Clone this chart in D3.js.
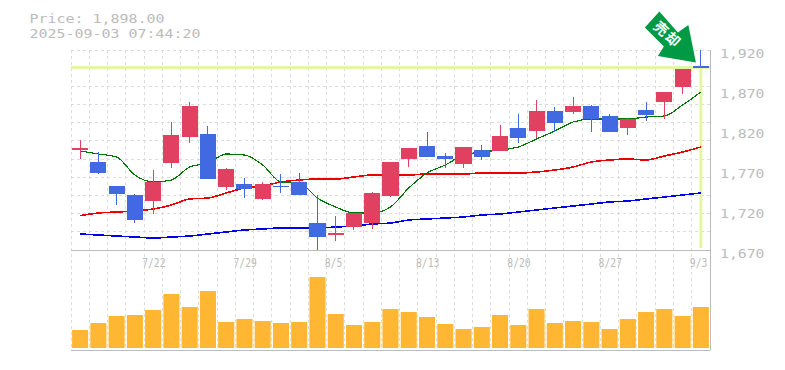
<!DOCTYPE html>
<html>
<head>
<meta charset="utf-8">
<script src="https://cdn.jsdelivr.net/npm/d3@7"></script>
<style>
  html, body { margin: 0; padding: 0; background: #fff; }
  svg { display: block; }
  text { font-family: "DejaVu Sans Mono", monospace; fill: #bbb; }
</style>
</head>
<body>
<div id="chart"></div>
<script>
const price_title = "Price: 1,898.00"
const time_title = "2025-09-03 07:44:20"
const last_price = 1898

const dates = ["7/15","7/16","7/17","7/18","7/22","7/23","7/24","7/25","7/28","7/29",
  "7/30","7/31","8/1","8/4","8/5","8/6","8/7","8/8","8/12","8/13",
  "8/14","8/15","8/18","8/19","8/20","8/21","8/22","8/25","8/26","8/27",
  "8/28","8/29","9/1","9/2","9/3"]
const date_labels = ["7/22","7/29","8/5","8/13","8/20","8/27","9/3"]
const price_ticks = [1670,1720,1770,1820,1870,1920]

const opens = [1795,1780,1750,1738.75,1731.25,1778.75,1811.25,1815,1748.75,1752.5,
  1733.75,1750,1755,1703.75,1688.75,1698.75,1703.75,1737.5,1783.75,1800,
  1787.5,1777.5,1795,1793.75,1822.5,1818.75,1843.75,1842.5,1850,1837.5,
  1822.5,1845,1855,1873.75,1900]
const highs = [1807.5,1792.5,1750,1740,1770,1830,1855,1825,1772.5,1760,
  1755,1765,1766.25,1738.75,1712.5,1716.25,1742.5,1780,1797.5,1817.5,
  1791.25,1798.75,1801.25,1826.25,1840,1857.5,1848.75,1861.25,1851.25,1840,
  1835,1855,1867.5,1896.25,1920]
const lows = [1783.75,1765,1726.25,1703.75,1715,1772.5,1803.75,1758.75,1745,1735,
  1732.5,1741.25,1738.75,1670,1681.25,1695,1696.25,1736.25,1773.75,1786.25,
  1772.5,1772.5,1782.5,1793.75,1803.75,1810,1817.5,1840,1817.5,1817.5,
  1813.75,1831.25,1833.75,1865,1898]
const closes = [1797.5,1766.25,1740,1707.5,1755,1813.75,1850,1758.75,1771.25,1746.25,
  1752.5,1748.75,1738.75,1686.25,1691.25,1716.25,1741.25,1780,1797.5,1786.25,
  1783.75,1798.75,1786.25,1812.5,1810,1843.75,1828.75,1850,1833.75,1817.5,
  1833.75,1838.75,1867.5,1896.25,1898]

const ma_short = [1793.75,1790,1786.25,1763.75,1755,1757.5,1773.75,1778.75,1790,1788.75,
  1776.25,1755,1753.75,1735,1723.75,1716.25,1716.25,1723.75,1747.5,1766.25,
  1776.25,1788.75,1792.5,1795,1798.75,1808.75,1818.75,1830,1833.75,1833.75,
  1833.75,1836.25,1837.5,1851.25,1867.5]
const ma_mid = [1713,1716.25,1717.5,1718.75,1721.25,1726.25,1733.75,1735,1741.25,1747.5,
  1750,1755,1757.5,1758.75,1758.75,1761.25,1763.75,1763.75,1763.75,1765,
  1765,1765,1766.25,1766.25,1766.25,1767.5,1770,1773.75,1780,1782.5,
  1783.75,1782.5,1787.5,1792.5,1798.75]
const ma_long = [1690,1688.75,1687.5,1686.25,1685,1686.25,1687.5,1690,1692.5,1695,
  1696.25,1697.5,1697.5,1697.5,1698.75,1700,1702.5,1703.75,1707.5,1708.75,
  1710,1711.25,1713.75,1715,1717.5,1720,1722.5,1725,1727.5,1730,
  1731.25,1733.75,1736.25,1738.75,1741.25]

const volumes = [1800,2500,3200,3300,3800,5400,4100,5700,2600,2900,
  2700,2500,2600,7100,3400,2300,2600,3900,3600,3100,
  2400,1900,2100,3300,2300,3900,2500,2700,2600,1900,
  2900,3600,3900,3200,4100]

const width = 785
const height = 370
const left = 71
const right = 710
const top_y = 50
const price_bottom = 250
const vol_bottom = 348
const panel_bottom = 350
const grid_rows = 11

const up_color = "#e24060"
const down_color = "#4169e1"
const grid_color = "#dcdcdc"
const axis_color = "#bbb"
const now_color = "#e4f6a4"

const svg = d3.select("#chart").append("svg")
  .attr("width", width)
  .attr("height", height)

const x = d3.scaleBand().domain(dates).range([left, right]).paddingInner(0.12).paddingOuter(0.06)
const y = d3.scaleLinear().domain([1670, 1920]).range([price_bottom, top_y])
const vol_y = d3.scaleLinear().domain([0, 9800]).range([vol_bottom, price_bottom])
const center = d => x(d) + x.bandwidth() / 2
const step = (right - left) / dates.length

// grid
const grid = svg.append("g")
  .attr("stroke", grid_color)
  .attr("stroke-dasharray", "3,3")
  .attr("shape-rendering", "crispEdges")

grid.selectAll(".v").data(d3.range(0, dates.length))
  .enter().append("line")
  .attr("x1", i => left + i * step)
  .attr("x2", i => left + i * step)
  .attr("y1", top_y)
  .attr("y2", panel_bottom)

grid.selectAll(".h").data(d3.range(0, grid_rows))
  .enter().append("line")
  .attr("x1", left)
  .attr("x2", right)
  .attr("y1", i => top_y + i * (price_bottom - top_y) / grid_rows)
  .attr("y2", i => top_y + i * (price_bottom - top_y) / grid_rows)

// current price cross
const last_date = dates[dates.length - 1]
svg.append("line")
  .attr("x1", left).attr("x2", right)
  .attr("y1", y(last_price)).attr("y2", y(last_price))
  .attr("stroke", now_color).attr("stroke-width", 3)
svg.append("line")
  .attr("x1", center(last_date)).attr("x2", center(last_date))
  .attr("y1", y(last_price)).attr("y2", price_bottom - 2)
  .attr("stroke", now_color).attr("stroke-width", 3)

// volume
svg.append("g").selectAll("rect").data(volumes)
  .enter().append("rect")
  .attr("x", (d, i) => x(dates[i]))
  .attr("width", x.bandwidth())
  .attr("y", d => vol_y(d))
  .attr("height", d => vol_bottom - vol_y(d))
  .attr("fill", "#ffb733")

// axis frame
const frame = svg.append("g")
  .attr("stroke", axis_color)
  .attr("shape-rendering", "crispEdges")
frame.append("line").attr("x1", left).attr("x2", right).attr("y1", price_bottom + 0.5).attr("y2", price_bottom + 0.5)
frame.append("line").attr("x1", left).attr("x2", right).attr("y1", panel_bottom).attr("y2", panel_bottom)
frame.append("line").attr("x1", right).attr("x2", right).attr("y1", top_y).attr("y2", panel_bottom)

// moving averages
const ma_line = d3.line().x((d, i) => center(dates[i])).y(d => y(d)).curve(d3.curveMonotoneX)
const ma_series = [[ma_long, "#0000ee", 1.6], [ma_mid, "#ee0000", 1.6], [ma_short, "#007700", 1.2]]
for (let [values, color, w] of ma_series) {
  svg.append("path")
    .attr("d", ma_line(values))
    .attr("fill", "none")
    .attr("stroke", color)
    .attr("stroke-width", w)
    .attr("shape-rendering", "crispEdges")
}

// candles
const candle = svg.append("g").selectAll("g").data(dates)
  .enter().append("g")
  .attr("fill", (d, i) => closes[i] >= opens[i] ? up_color : down_color)
  .attr("stroke", (d, i) => closes[i] >= opens[i] ? up_color : down_color)
  .attr("shape-rendering", "crispEdges")

candle.append("line")
  .attr("x1", d => center(d)).attr("x2", d => center(d))
  .attr("y1", (d, i) => y(highs[i]))
  .attr("y2", (d, i) => y(lows[i]))

candle.append("rect")
  .attr("x", d => x(d))
  .attr("width", x.bandwidth())
  .attr("y", (d, i) => y(Math.max(opens[i], closes[i])))
  .attr("height", (d, i) => Math.abs(y(opens[i]) - y(closes[i])))
  .attr("stroke", "none")

// labels, stretched to the wide bitmap look of the original
const wide_text = (sel, per_char) => sel
  .attr("textLength", d => d.length * per_char)
  .attr("lengthAdjust", "spacingAndGlyphs")

wide_text(svg.append("text").datum(price_title).attr("x", 29.5).attr("y", 22.5).style("font-size", "13px").text(d => d), 9)
wide_text(svg.append("text").datum(time_title).attr("x", 29.5).attr("y", 38).style("font-size", "13px").text(d => d), 9)

svg.append("g").selectAll("text").data(price_ticks.map(d => d3.format(",")(d)))
  .enter().append("text")
  .attr("x", 720)
  .attr("y", (d, i) => y(price_ticks[i]) + 8)
  .style("font-size", "13px")
  .text(d => d)
  .call(wide_text, 8.9)

svg.append("g").selectAll("text").data(date_labels)
  .enter().append("text")
  .attr("x", d => center(d) - 11)
  .attr("y", 266.5)
  .style("font-size", "13px")
  .text(d => d)
  .call(wide_text, 5.85)

// arrow pointing at the last price
const arrow = svg.append("g")
  .attr("transform", `translate(${center(last_date) - 5},${y(last_price) - 5})`)
arrow.append("path")
  .attr("d", "M-36.5,-51 L-51,-35 L-32,-16 L-38,-6.5 L0,0 L-7.5,-37.5 L-18,-30 Z")
  .attr("fill", "#009944")
arrow.append("text")
  .attr("transform", "translate(-29,-27) rotate(42)")
  .attr("text-anchor", "middle")
  .attr("dominant-baseline", "middle")
  .style("font-family", "'Noto Sans CJK JP'")
  .style("font-size", "14px")
  .style("font-weight", "700")
  .style("letter-spacing", "2px")
  .style("fill", "#fff")
  .text("売却")
</script>
</body>
</html>
